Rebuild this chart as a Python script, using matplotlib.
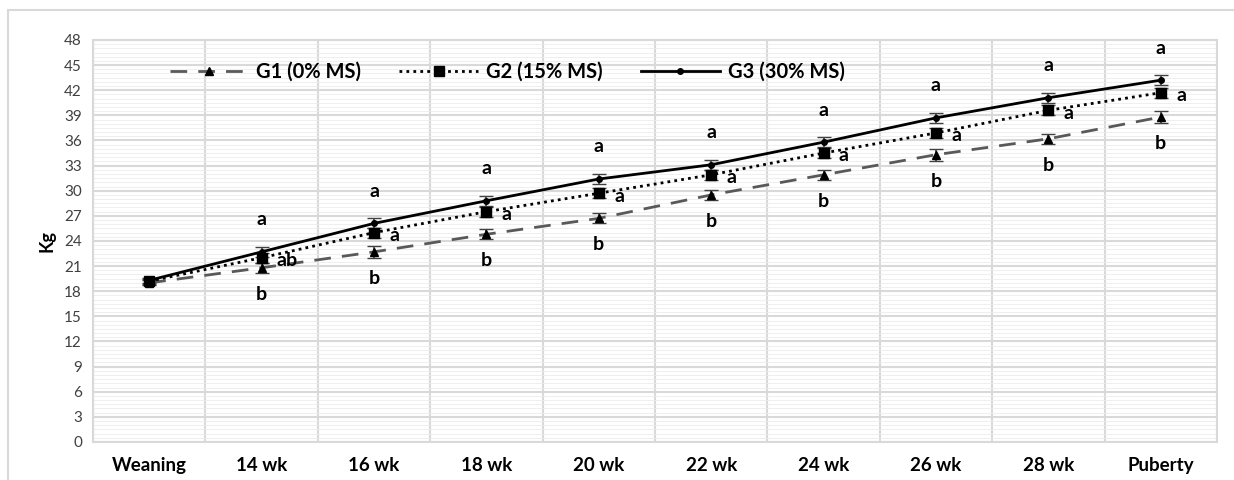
import numpy as np
import matplotlib.pyplot as plt
from matplotlib.patches import Rectangle
from matplotlib.lines import Line2D
from matplotlib.ticker import MultipleLocator

plt.rcParams['font.family'] = ['Lato', 'DejaVu Sans']

labels = ['Weaning', '14 wk', '16 wk', '18 wk', '20 wk', '22 wk', '24 wk', '26 wk', '28 wk', 'Puberty']
g1 = [19.0, 20.8, 22.7, 24.8, 26.7, 29.5, 31.9, 34.3, 36.2, 38.8]
g2 = [19.2, 22.0, 25.0, 27.5, 29.7, 31.9, 34.5, 36.9, 39.6, 41.7]
g3 = [19.3, 22.7, 26.1, 28.8, 31.4, 33.1, 35.8, 38.7, 41.1, 43.2]
g1_err = [0.3, 0.6, 0.7, 0.6, 0.6, 0.6, 0.6, 0.7, 0.6, 0.7]
g2_err = [0.3, 0.6, 0.6, 0.6, 0.6, 0.6, 0.6, 0.6, 0.6, 0.6]
g3_err = [0.3, 0.6, 0.6, 0.6, 0.6, 0.6, 0.6, 0.6, 0.6, 0.6]
g1_let = ['', 'b', 'b', 'b', 'b', 'b', 'b', 'b', 'b', 'b']
g2_let = ['', 'ab', 'a', 'a', 'a', 'a', 'a', 'a', 'a', 'a']
g3_let = ['', 'a', 'a', 'a', 'a', 'a', 'a', 'a', 'a', 'a']
names = ['G1 (0% MS)', 'G2 (15% MS)', 'G3 (30% MS)']

fig = plt.figure(figsize=(12.34, 4.8), dpi=100)
ax = fig.add_axes([0.0754, 0.0792, 0.9108, 0.8375])

# outer chart border
fig.patches.append(Rectangle((8 / 1234, -0.1), 1.2, 1 - 10 / 480 + 0.1, transform=fig.transFigure,
                             fill=False, edgecolor='#d9d9d9', linewidth=1.5))

styles = [
    dict(color='#595959', linestyle=(0, (6, 4)), linewidth=2, marker='^', markersize=6),
    dict(color='black', linestyle=(0, (1, 1.5)), linewidth=2, marker='s', markersize=7),
    dict(color='black', linestyle='-', linewidth=2, marker='o', markersize=4),
]

x = np.arange(len(labels))
for y, err, st in zip([g1, g2, g3], [g1_err, g2_err, g3_err], styles):
    ax.errorbar(x, y, yerr=err, mfc='black', mec='black', ecolor='#404040',
                elinewidth=1.2, capsize=5, **st)

for i in range(len(labels)):
    if g3_let[i]:
        ax.annotate(g3_let[i], (x[i], g3[i]), xytext=(0, 17), textcoords='offset points',
                    ha='center', va='bottom', fontsize=14, fontweight='bold')
    if g2_let[i]:
        ax.annotate(g2_let[i], (x[i], g2[i]), xytext=(11, -2), textcoords='offset points',
                    ha='left', va='center', fontsize=14, fontweight='bold')
    if g1_let[i]:
        ax.annotate(g1_let[i], (x[i], g1[i]), xytext=(0, -13), textcoords='offset points',
                    ha='center', va='top', fontsize=14, fontweight='bold')

ax.set_xlim(-0.5, len(labels) - 0.5)
ax.set_ylim(0, 48)
ax.yaxis.set_major_locator(MultipleLocator(3))
ax.yaxis.set_minor_locator(MultipleLocator(0.5))
ax.set_xticks(x)
ax.set_xticklabels(labels, fontsize=13.5, fontweight='bold')
ax.set_xticks(np.arange(-0.5, len(labels), 1), minor=True)
ax.tick_params(axis='both', which='both', length=0)
ax.tick_params(axis='y', labelsize=11, colors='#404040', pad=8)
ax.tick_params(axis='x', pad=11)
ax.grid(which='major', axis='y', color='#d9d9d9', linewidth=1.5)
ax.grid(which='minor', axis='y', color='#ececec', linewidth=0.6)
ax.grid(which='minor', axis='x', color='#d9d9d9', linewidth=1.5)
ax.set_axisbelow(True)
for s in ax.spines.values():
    s.set_color('#d9d9d9')
    s.set_linewidth(1.5)

ax.set_ylabel('Kg', fontsize=13, fontweight='bold', labelpad=6)

handles = [Line2D([], [], mfc='black', mec='black', **st) for st in styles]
leg = ax.legend(handles, names, loc='upper left', bbox_to_anchor=(0.052, 0.99), ncol=3, frameon=False,
                fontsize=14.5, handlelength=3.9, columnspacing=1.9, handletextpad=0.4)
for t in leg.get_texts():
    t.set_fontweight('bold')

fig.savefig('out.png', dpi=100)
